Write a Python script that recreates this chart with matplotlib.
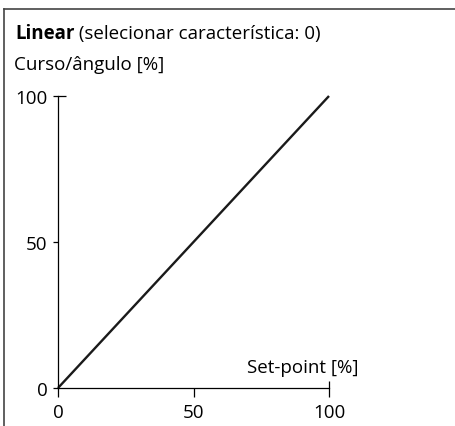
import matplotlib
matplotlib.use("Agg")
from matplotlib import pyplot as plt
from matplotlib.lines import Line2D

# data
setpoint = [0, 100]
travel = [0, 100]
xticks = [0, 50, 100]
yticks = [0, 50, 100]

title_bold = "Linear"
title_rest = " (selecionar característica: 0)"
ylabel = "Curso/ângulo [%]"
xlabel = "Set-point [%]"

plt.rcParams['font.family'] = ['Open Sans', 'DejaVu Sans']
FS = 13.5

W, H = 455, 427
fig = plt.figure(figsize=(W / 100, H / 100), dpi=100)

# outer frame (top and left only)
fig.add_artist(Line2D([4 / W, 1], [1 - 10 / H, 1 - 10 / H], color='#444444', lw=1.2))
fig.add_artist(Line2D([4 / W, 4 / W], [0, 1 - 10 / H], color='#444444', lw=1.2))

# title
t = fig.text(15 / W, 1 - 39 / H, title_bold, fontsize=FS, fontweight='bold', va='baseline')
fig.canvas.draw()
bb = t.get_window_extent()
fig.text(bb.x1 / W, 1 - 39 / H, title_rest, fontsize=FS, va='baseline')
fig.text(14 / W, 1 - 70 / H, ylabel, fontsize=FS, va='baseline')

ax = fig.add_axes([58 / W, 38 / H, 271 / W, 292 / H])
ax.plot(setpoint, travel, color='#1a1a1a', lw=1.7, clip_on=False, solid_capstyle='butt')
ax.set_xlim(0, 100)
ax.set_ylim(0, 100)
for s in ['top', 'right']:
    ax.spines[s].set_visible(False)
for s in ['left', 'bottom']:
    ax.spines[s].set_linewidth(0.9)
ax.patch.set_visible(False)

ax.set_xticks(xticks)
ax.set_yticks(yticks)
ax.tick_params(axis='x', direction='out', length=6.5, width=0.9, pad=4, labelsize=FS)
ax.tick_params(axis='y', direction='out', length=3.6, width=0.9, pad=4, labelsize=FS)
# inner part of the end ticks
ax.xaxis.remove_overlapping_locs = False
ax.yaxis.remove_overlapping_locs = False
ax.set_xticks([100], minor=True)
ax.set_yticks([100], minor=True)
ax.tick_params(axis='x', which='minor', direction='in', length=5, width=0.9, labelbottom=False)
ax.tick_params(axis='y', which='minor', direction='in', length=5.8, width=0.9, labelleft=False)

ax.text(1.11, 0.055, xlabel, transform=ax.transAxes, fontsize=FS, ha='right', va='baseline')

fig.savefig("out.png", dpi=100)
